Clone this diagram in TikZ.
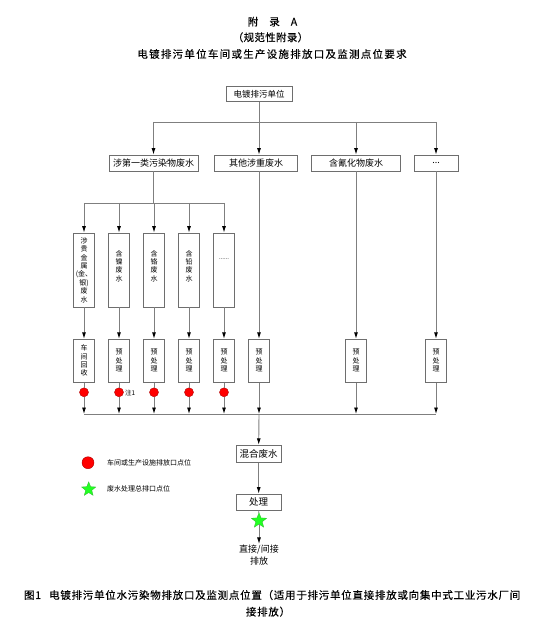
\documentclass[tikz,border=0pt]{standalone}
\usepackage{fontspec}
\setmainfont{Noto Sans CJK SC}
\usetikzlibrary{arrows.meta,shapes.geometric}
\definecolor{lc}{HTML}{7F7F7F}
\definecolor{bc}{HTML}{6E6E6E}
\definecolor{dotred}{HTML}{FF0000}
\definecolor{dotedge}{HTML}{B00000}
\definecolor{stargreen}{HTML}{22FF22}
\definecolor{staredge}{HTML}{33BB33}
\tikzset{
  box/.style={draw=bc, line width=0.8pt, fill=white, inner sep=1pt, font=\fontsize{9}{10}\selectfont},
  vbox/.style={draw=bc, line width=0.8pt, fill=white, minimum width=20.7pt, inner sep=0pt, align=center, font=\fontsize{7}{8.4}\selectfont},
  vtext/.style={inner sep=0pt, align=center, font=\fontsize{7}{8.4}\selectfont},
  ln/.style={draw=lc, line width=0.9pt},
  arr/.style={ln, -{Latex[length=6.5pt,width=4pt,black]}},
  rdot/.style={circle, fill=dotred, draw=dotedge, line width=0.4pt, minimum size=9pt, inner sep=0pt},
  gstar/.style={star, star points=5, star point ratio=2.3, fill=stargreen, draw=staredge, line width=0.3pt, minimum size=16pt, inner sep=0pt},
  ttl/.style={inner sep=0pt, font=\fontsize{10.5}{12}\selectfont},
  legtext/.style={anchor=west, inner sep=0pt, font=\fontsize{7}{8}\selectfont}
}
\begin{document}
\begin{tikzpicture}[x=1pt,y=-1pt]
\useasboundingbox (0,0) rectangle (549,620);
% titles
\node[ttl] (h1) at (272.5,21.7) {\addfontfeature{FakeBold=0.3}附\hspace{11pt}录\hspace{11pt}A};
\node[ttl] (h2) at (270.5,37.3) {\addfontfeature{FakeBold=0.3,LetterSpace=3}（规范性附录）};
\node[ttl] (h3) at (272,54) {\addfontfeature{FakeBold=0.3,LetterSpace=12}电镀排污单位车间或生产设施排放口及监测点位要求};
% bus coordinates
\coordinate (bus1) at (0,122);
\coordinate (bus2) at (0,203);
\coordinate (bus3) at (0,414);
% top level
\node[box, minimum width=66pt, minimum height=15pt, font=\fontsize{8.5}{10}\selectfont] (top) at (259,94) {电镀排污单位};
\node[box, minimum width=89pt, minimum height=16pt] (w1) at (153.5,163) {涉第一类污染物废水};
\node[box, minimum width=83pt, minimum height=16pt] (w2) at (256,163) {其他涉重废水};
\node[box, minimum width=89pt, minimum height=16pt] (w3) at (356,163) {含氰化物废水};
\node[box, minimum width=44pt, minimum height=16pt] (w4) at (436,163) {...};
% tall boxes
\node[vbox, minimum height=74pt] (t1) at (84,270) {涉\\贵\\金\\属\\(金、\\银)\\废\\水};
\node[vbox, minimum height=74pt] (t2) at (119,270) {};
\node[vbox, minimum height=74pt] (t3) at (154,270) {};
\node[vbox, minimum height=74pt] (t4) at (189,270) {};
\node[vbox, minimum height=74pt] (t5) at (224,270) {};
\node[vtext, yshift=4pt] (t2l) at (t2) {含\\镍\\废\\水};
\node[vtext, yshift=4pt] (t3l) at (t3) {含\\铬\\废\\水};
\node[vtext, yshift=4pt] (t4l) at (t4) {含\\铅\\废\\水};
\node[vtext, yshift=11pt, font=\fontsize{6}{7}\selectfont] (t5l) at (t5) {......};
% pre-treatment boxes
\node[vbox, minimum height=43pt] (p1) at (84,360.7) {车\\间\\回\\收};
\node[vbox, minimum height=43pt] (p2) at (119,360.7) {预\\处\\理};
\node[vbox, minimum height=43pt] (p3) at (154,360.7) {预\\处\\理};
\node[vbox, minimum height=43pt] (p4) at (189,360.7) {预\\处\\理};
\node[vbox, minimum height=43pt] (p5) at (224,360.7) {预\\处\\理};
\node[vbox, minimum height=43pt] (p6) at (259,360.7) {预\\处\\理};
\node[vbox, minimum height=43pt] (p7) at (356,360.7) {预\\处\\理};
\node[vbox, minimum height=43pt] (p8) at (436,360.7) {预\\处\\理};
% dots
\foreach \i/\x in {1/84,2/119,3/154,4/189,5/224}{
  \node[rdot] (d\i) at (\x,392.3) {};
}
\node[anchor=west, inner sep=0pt, font=\fontsize{6.5}{7}\selectfont] (n1) at (125,393) {注1};
% mixing and treatment
\node[box, minimum width=45pt, minimum height=17pt, font=\fontsize{9.5}{11}\selectfont] (mix) at (258.7,453.7) {混合废水};
\node[box, minimum width=45pt, minimum height=16pt, font=\fontsize{9.5}{11}\selectfont] (treat) at (258.7,502) {处理};
\node[gstar] (st) at (259,520.7) {};
\node[inner sep=1pt, align=center, font=\fontsize{9}{11.4}\selectfont] (out) at (259,555) {直接/间接\\排放};
% connectors
\draw[ln] (w1.north |- bus1) -- (w4.north |- bus1);
\draw[arr] (w1.north |- bus1) -- (w1.north);
\draw[arr] (top.south) -- (top.south |- w2.north);
\draw[arr] (w3.north |- bus1) -- (w3.north);
\draw[arr] (w4.north |- bus1) -- (w4.north);
\draw[ln] (w1.south) -- (w1.south |- bus2);
\draw[ln] (t1.north |- bus2) -- (t5.north |- bus2);
\foreach \i in {1,...,5}{
  \draw[arr] (t\i.north |- bus2) -- (t\i.north);
  \draw[arr] (t\i.south) -- (p\i.north);
  \draw[ln] (p\i.south) -- (d\i);
  \draw[arr] (d\i) -- (d\i |- bus3);
}
\draw[arr] (p6.north |- w2.south) -- (p6.north);
\draw[arr] (w3.south) -- (p7.north);
\draw[arr] (w4.south) -- (p8.north);
\draw[arr] (p6.south) -- (p6.south |- bus3);
\draw[arr] (p7.south) -- (p7.south |- bus3);
\draw[arr] (p8.south) -- (p8.south |- bus3);
\draw[ln] (d1 |- bus3) -- (p8.south |- bus3);
\draw[arr] (p6.south |- bus3) -- (mix.north);
\draw[arr] (mix) -- (treat);
\draw[ln] (treat.south) -- (st);
\draw[arr] (st) -- (out.north);
% legend
\node[rdot, minimum size=12pt] (lg1) at (88,462.7) {};
\node[legtext] (lg1t) at (107,462.7) {车间或生产设施排放口点位};
\node[gstar, minimum size=15pt] (lg2) at (88.7,489.3) {};
\node[legtext] (lg2t) at (107,489.3) {废水处理总排口点位};
% caption
\node[ttl] (c1) at (272.2,595) {\addfontfeature{FakeBold=0.25,LetterSpace=7}图1\hspace{8pt}电镀排污单位水污染物排放口及监测点位置（适用于排污单位直接排放或向集中式工业污水厂间};
\node[ttl] (c2) at (268,611.7) {\addfontfeature{FakeBold=0.25,LetterSpace=7}接排放）};
\end{tikzpicture}
\end{document}
